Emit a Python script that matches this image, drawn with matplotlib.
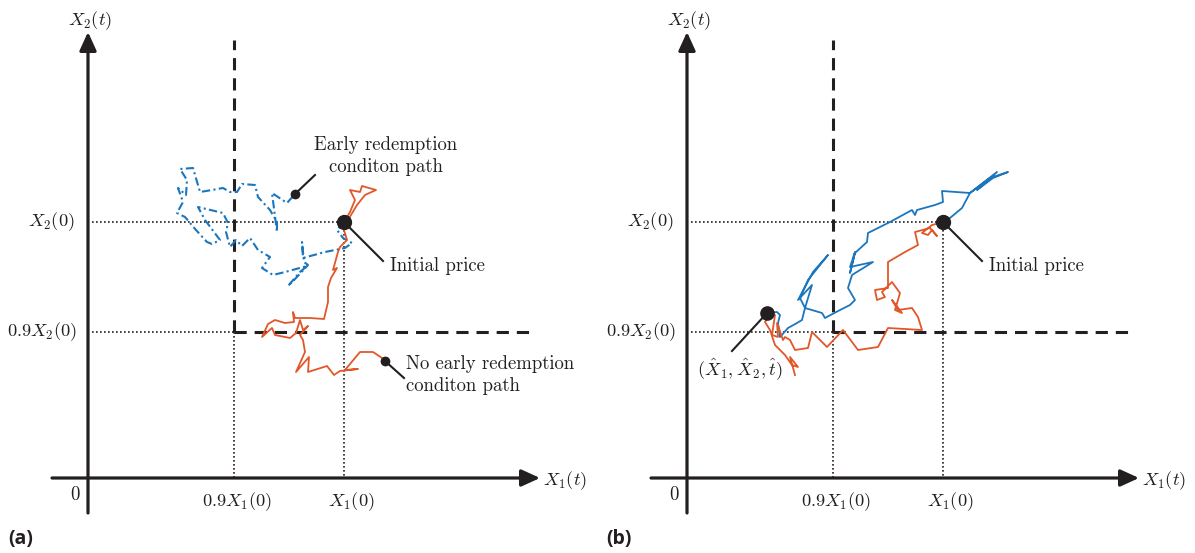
import numpy as np
import matplotlib
matplotlib.use("Agg")
import matplotlib.pyplot as plt

plt.rcParams['mathtext.fontset'] = 'cm'
plt.rcParams['axes.unicode_minus'] = False

INK = '#231f20'
BLUE = '#1b76bd'
ORANGE = '#e2572a'

# schematic levels (same units on both axes)
x1_0 = 256
x2_0 = 256
x1_bar = 146   # 0.9 X1(0)
x2_bar = 146   # 0.9 X2(0)

# (a) early redemption path (dash-dot, blue)
path_a_blue_x = [256, 249, 255, 264, 257, 237, 215, 214, 216, 220, 208, 200, 212, 219, 197, 185,
                 174, 182, 170, 162, 154, 148, 142, 138, 140, 135, 110, 117, 132, 124, 119, 108,
                 97, 89, 95, 90, 98, 99, 92, 105, 112, 124, 135, 142, 149, 154, 167, 170, 182,
                 189, 189, 184, 199, 207]
path_a_blue_y = [256, 248, 240, 235, 230, 226, 220, 236, 216, 213, 200, 192, 206, 212, 206, 203,
                 210, 221, 228, 240, 232, 238, 231, 246, 255, 265, 271, 258, 238, 234, 236, 248,
                 261, 265, 276, 290, 283, 298, 309, 310, 286, 288, 290, 286, 286, 294, 293, 281,
                 268, 256, 246, 285, 275, 284]

# (a) no early redemption path (solid, orange)
path_a_orange_x = [256, 262, 267, 262, 272, 274, 288, 277, 269, 260, 256, 259, 252, 250, 245, 249,
                   243, 240, 240, 236, 222, 207, 205, 206, 197, 187, 180, 174, 184, 187, 202, 208,
                   212, 215, 220, 212, 215, 217, 208, 221, 220, 239, 246, 252, 270, 257, 272, 285,
                   294, 297]
path_a_orange_y = [256, 266, 278, 288, 286, 292, 288, 283, 273, 258, 248, 238, 231, 226, 208, 210,
                   200, 191, 176, 159, 160, 160, 166, 156, 155, 158, 154, 141, 150, 143, 140, 145,
                   158, 148, 152, 143, 138, 126, 106, 121, 106, 112, 103, 107, 109, 108, 126, 126,
                   120, 117]

# (b) path reaching the low point (solid, blue)
path_b_blue_x = [256, 263, 275, 283, 310, 290, 306, 321, 303, 283, 255, 256, 248, 230, 228, 225,
                 203, 181, 180, 168, 163, 168, 163, 186, 165, 161, 168, 163, 153, 138, 135, 118,
                 113, 121, 141, 126, 111, 125, 118, 115, 110, 101, 93, 91, 93, 90, 80]
path_b_blue_y = [256, 260, 270, 285, 306, 288, 300, 306, 300, 285, 287, 276, 273, 268, 263, 268,
                 256, 245, 236, 225, 205, 226, 211, 216, 203, 190, 178, 173, 168, 160, 165, 170,
                 180, 198, 223, 206, 178, 193, 170, 158, 155, 150, 141, 155, 163, 166, 165]

# (b) second path (solid, orange)
path_b_orange_x = [256, 245, 235, 241, 245, 250, 243, 228, 231, 218, 201, 201, 188, 190, 198, 195,
                   205, 213, 208, 215, 205, 211, 225, 231, 235, 218, 201, 191, 171, 156, 140, 125,
                   121, 108, 103, 98, 96, 90, 91, 85, 88, 81, 78, 83, 88, 98, 105, 111, 103, 108]
path_b_orange_y = [256, 253, 245, 243, 248, 242, 250, 246, 233, 226, 216, 190, 188, 178, 181, 186,
                   196, 185, 168, 165, 178, 168, 170, 161, 148, 149, 150, 131, 128, 148, 131, 146,
                   130, 128, 138, 141, 138, 155, 141, 143, 163, 161, 156, 148, 133, 123, 113, 111,
                   121, 103]

fig = plt.figure(figsize=(11.95, 5.53), dpi=100)
ax_a = fig.add_axes([0.0, 0.0, 0.5, 1.0])
ax_b = fig.add_axes([0.5, 0.0, 0.5, 1.0])
ax_a.set_xlim(-88, 509.5)
ax_a.set_ylim(-75, 478)
ax_b.set_xlim(-89.5, 508)
ax_b.set_ylim(-75, 478)

label_kw = dict(fontsize=13.3, color=INK)
text_kw = dict(fontsize=13.5, color=INK, family='cmr10')


def draw_frame(ax):
    # axes with arrow heads
    arrow = dict(arrowstyle='-|>,head_length=0.7,head_width=0.32', lw=2.3, color=INK,
                 shrinkA=0, shrinkB=0, mutation_scale=16)
    ax.annotate('', xy=(0, 446), xytext=(0, -35), arrowprops=arrow)
    ax.annotate('', xy=(452, 0), xytext=(-36, 0), arrowprops=arrow)

    # barrier lines
    ax.plot([x1_bar, x1_bar], [x2_bar, 438], color=INK, lw=2.2, ls=(0, (4, 2.6)))
    ax.plot([x1_bar, 442], [x2_bar, x2_bar], color=INK, lw=2.2, ls=(0, (4, 2.6)))

    # guides to the initial levels
    dot = dict(color=INK, lw=1.2, ls=(0, (1, 1.4)))
    ax.plot([4, x1_0], [x2_0, x2_0], **dot)
    ax.plot([x1_0, x1_0], [x2_0, 0], **dot)
    ax.plot([4, x1_bar], [x2_bar, x2_bar], **dot)
    ax.plot([x1_bar, x1_bar], [x2_bar, 0], **dot)

    ax.text(2, 457, r'$X_2(t)$', ha='center', va='center', **label_kw)
    ax.text(455, -3, r'$X_1(t)$', ha='left', va='center', **label_kw)
    ax.text(-13, -17, '0', ha='center', va='center', **text_kw)
    ax.text(x1_bar + 3, -24, r'$0.9X_1(0)$', ha='center', va='center', **label_kw)
    ax.text(x1_0 + 7, -24, r'$X_1(0)$', ha='center', va='center', **label_kw)
    ax.text(-13, x2_0, r'$X_2(0)$', ha='right', va='center', **label_kw)
    ax.text(-11, x2_bar, r'$0.9X_2(0)$', ha='right', va='center', **label_kw)

    # initial price marker and label
    ax.plot([x1_0, x1_0 + 39], [x2_0, x2_0 - 39], color=INK, lw=1.5)
    ax.plot(x1_0, x2_0, 'o', ms=10, color=INK, zorder=5)
    ax.text(x1_0 + 46, x2_0 - 44, 'Initial price', ha='left', va='center', **text_kw)
    ax.axis('off')


draw_frame(ax_a)
draw_frame(ax_b)

# panel (a)
ax_a.plot(path_a_blue_x, path_a_blue_y, color=BLUE, lw=1.5, ls=(0, (4, 1.6, 1, 1.6)), zorder=3)
ax_a.plot(path_a_orange_x, path_a_orange_y, color=ORANGE, lw=1.3, zorder=3)

bx, by = path_a_blue_x[-1], path_a_blue_y[-1]
ax_a.plot([bx, bx + 20], [by, by + 19], color=INK, lw=1.5)
ax_a.plot(bx, by, 'o', ms=6, color=INK, zorder=5)
ax_a.text(bx + 91, by + 38, 'Early redemption\nconditon path', ha='center', va='center',
          linespacing=1.25, **text_kw)

ox, oy = path_a_orange_x[-1], path_a_orange_y[-1]
ax_a.plot([ox, ox + 19], [oy, oy - 17], color=INK, lw=1.5)
ax_a.plot(ox, oy, 'o', ms=6, color=INK, zorder=5)
ax_a.text(ox + 21, oy - 14, 'No early redemption\nconditon path', ha='left', va='center',
          linespacing=1.25, **text_kw)

# panel (b)
ax_b.plot(path_b_blue_x, path_b_blue_y, color=BLUE, lw=1.3, zorder=3)
ax_b.plot(path_b_orange_x, path_b_orange_y, color=ORANGE, lw=1.3, zorder=3)

hx, hy = path_b_blue_x[-1], path_b_blue_y[-1]
ax_b.plot([hx, hx - 35], [hy, hy - 38], color=INK, lw=1.5)
ax_b.plot(hx, hy, 'o', ms=9.5, color=INK, zorder=5)
ax_b.text(hx - 27, hy - 56, r'$(\hat{X}_1, \hat{X}_2, \hat{t})$', ha='center', va='center', **label_kw)

fig.text(0.007, 0.026, '(a)', fontsize=14, fontweight='bold', color=INK, family='Open Sans',
         ha='left', va='center')
fig.text(0.507, 0.026, '(b)', fontsize=14, fontweight='bold', color=INK, family='Open Sans',
         ha='left', va='center')

fig.savefig('out.png', dpi=100)
